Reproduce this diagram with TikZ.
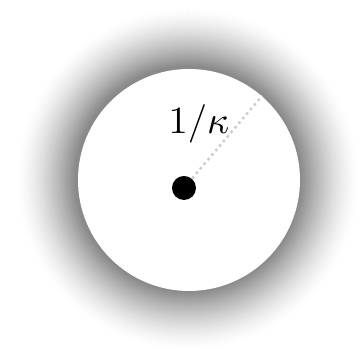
\documentclass[tikz,border=0pt]{standalone}
\usepackage{tikz}
\tikzset{
  disk/.style={circle, fill=white, inner sep=0pt, minimum size=2.22cm},
  charge/.style={circle, fill=black, inner sep=0pt, minimum size=0.24cm},
  debyeline/.style={gray!40, densely dotted, line width=0.7pt},
  lbl/.style={font=\fontsize{11}{13}\selectfont, inner sep=0pt},
}
\begin{document}
\begin{tikzpicture}
    \useasboundingbox (0,0) rectangle (3.60,3.59);
    \fill[white] (0,0) rectangle (3.60,3.59);
    % halo, outside in
    \foreach \i in {0,...,59} {
      \pgfmathsetmacro{\rr}{1.72-\i*0.01}
      \pgfmathsetmacro{\dk}{46*pow(\i/59,1.5)}
      \fill[black!\dk] (1.88,1.80) circle (\rr);
    }
    \node[disk] (disk) at (1.89,1.79) {};
    \node[charge] (ion) at (1.84,1.71) {};
    \node[lbl] (debye) at (1.99,2.35) {$1/\kappa$};
    \draw[debyeline] (ion) -- (disk.49);
  \end{tikzpicture}
\end{document}
